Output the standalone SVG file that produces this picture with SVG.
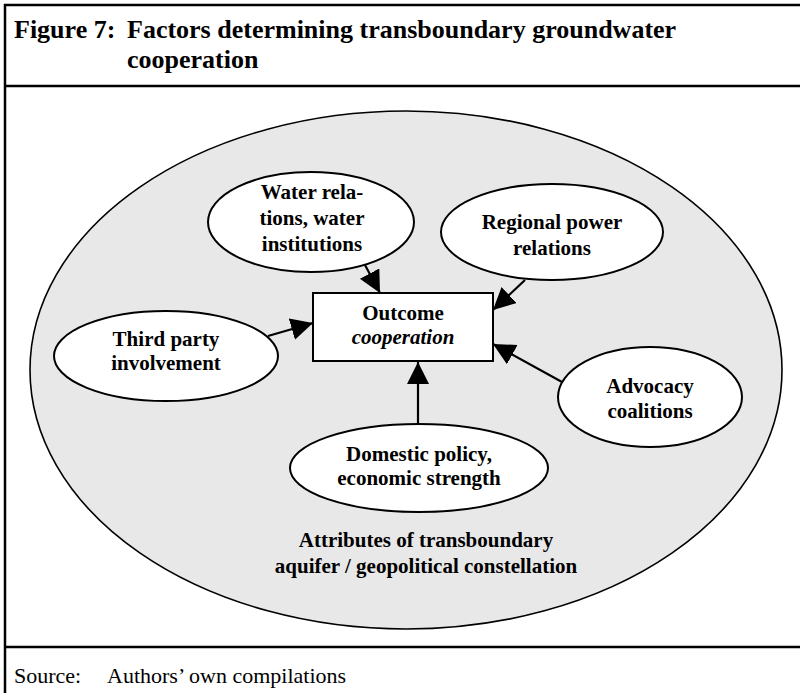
<svg xmlns="http://www.w3.org/2000/svg" width="800" height="693" viewBox="0 0 800 693">
<style>
  .frame { stroke: #000; stroke-width: 2.5; fill: none; }
  .node { fill: #fff; stroke: #000; stroke-width: 2; }
  .outer { fill: #e8e8e8; stroke: #000; stroke-width: 1.6; }
  .lbl { font-family: "Liberation Serif", "Times New Roman", serif; font-weight: bold; font-size: 21px; text-anchor: middle; fill: #000; }
  .title { font-family: "Liberation Serif", "Times New Roman", serif; font-weight: bold; font-size: 26px; fill: #000; }
  .src { font-family: "Liberation Serif", "Times New Roman", serif; font-size: 22px; fill: #000; }
  .conn { stroke: #000; stroke-width: 2.2; fill: none; marker-end: url(#arr); }
</style>
<defs>
  <marker id="arr" markerUnits="userSpaceOnUse" markerWidth="24" markerHeight="24" refX="22" refY="11" orient="auto" viewBox="0 0 24 24">
    <path d="M0,0 L22,11 L0,22 z" fill="#000"/>
  </marker>
</defs>
<rect width="800" height="693" fill="#fff"/>
<g id="frame">
  <line class="frame" x1="5" y1="4" x2="5" y2="693"/>
  <line class="frame" x1="4" y1="5" x2="800" y2="5"/>
  <line class="frame" x1="4" y1="86" x2="800" y2="86"/>
  <line class="frame" x1="4" y1="647" x2="800" y2="647"/>
</g>
<g id="title">
  <text class="title" x="14" y="38">Figure 7:<tspan x="127">Factors determining transboundary groundwater</tspan></text>
  <text class="title" x="127" y="68">cooperation</text>
</g>
<g id="context">
  <ellipse class="outer" cx="406" cy="370" rx="376" ry="259"/>
  <text class="lbl" x="426" y="547">Attributes of transboundary</text>
  <text class="lbl" x="426" y="573">aquifer / geopolitical constellation</text>
</g>
<g id="connectors">
  <line class="conn" x1="365" y1="265" x2="380" y2="293"/>
  <line class="conn" x1="525" y1="280" x2="493" y2="310"/>
  <line class="conn" x1="268" y1="336" x2="313" y2="323"/>
  <line class="conn" x1="562" y1="382" x2="493" y2="344"/>
  <line class="conn" x1="418" y1="425" x2="418" y2="362"/>
</g>
<g id="outcome">
  <rect class="node" x="313" y="293" width="180" height="68"/>
  <text class="lbl" x="403" y="320">Outcome</text>
  <text class="lbl" x="403" y="344" font-style="italic" font-weight="normal">cooperation</text>
</g>
<g id="water">
  <ellipse class="node" cx="311" cy="222" rx="103" ry="50"/>
  <text class="lbl" x="312" y="199">Water rela-</text>
  <text class="lbl" x="312" y="225">tions, water</text>
  <text class="lbl" x="312" y="251">institutions</text>
</g>
<g id="regional">
  <ellipse class="node" cx="552" cy="232" rx="111" ry="48"/>
  <text class="lbl" x="552" y="229">Regional power</text>
  <text class="lbl" x="552" y="255">relations</text>
</g>
<g id="third">
  <ellipse class="node" cx="166" cy="356" rx="112" ry="45"/>
  <text class="lbl" x="166" y="346">Third party</text>
  <text class="lbl" x="166" y="370">involvement</text>
</g>
<g id="advocacy">
  <ellipse class="node" cx="650" cy="397" rx="92" ry="50"/>
  <text class="lbl" x="650" y="393">Advocacy</text>
  <text class="lbl" x="650" y="418">coalitions</text>
</g>
<g id="domestic">
  <ellipse class="node" cx="419" cy="468" rx="129" ry="44"/>
  <text class="lbl" x="419" y="461">Domestic policy,</text>
  <text class="lbl" x="419" y="485">economic strength</text>
</g>
<g id="source">
  <text class="src" x="14" y="683">Source:<tspan x="107">Authors’ own compilations</tspan></text>
</g>
</svg>
